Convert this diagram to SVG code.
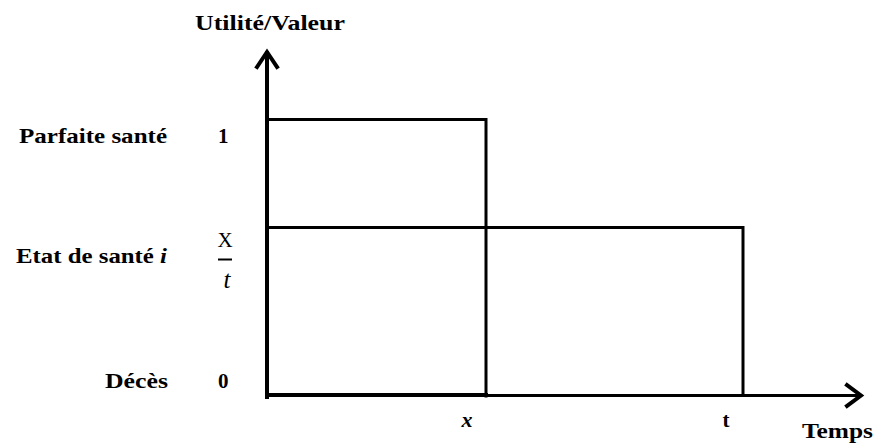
<svg xmlns="http://www.w3.org/2000/svg" width="878" height="444" viewBox="0 0 878 444">
<style>
.t{font-family:"Liberation Serif","DejaVu Serif",serif;font-size:21px;font-weight:bold;fill:#000}
.i{font-style:italic}
.n{font-weight:normal}
.ln{stroke:#000;fill:none;stroke-linecap:square}
</style>
<rect width="878" height="444" fill="#fff"/>
<g id="labels">
<text class="t" x="270" y="30" text-anchor="middle" textLength="150" lengthAdjust="spacingAndGlyphs">Utilité/Valeur</text>
<text class="t" x="19" y="143" textLength="148" lengthAdjust="spacingAndGlyphs">Parfaite santé</text>
<text class="t" x="218" y="143">1</text>
<text class="t" x="16" y="263" textLength="151" lengthAdjust="spacingAndGlyphs">Etat de santé <tspan class="i">i</tspan></text>
<text class="t n" x="225" y="247" text-anchor="middle">X</text>
<line x1="218" y1="259.5" x2="232" y2="259.5" stroke="#000" stroke-width="2"/>
<text class="t n i" x="227" y="288" text-anchor="middle" style="font-size:25px">t</text>
<text class="t" x="105" y="388" textLength="63" lengthAdjust="spacingAndGlyphs">Décès</text>
<text class="t" x="218" y="388">0</text>
<text class="t i" x="467" y="427" text-anchor="middle" style="font-size:22px">x</text>
<text class="t" x="726" y="427" text-anchor="middle">t</text>
<text class="t" x="802" y="438" textLength="71" lengthAdjust="spacingAndGlyphs">Temps</text>
</g>
<g id="connectors">
<line class="ln" x1="267" y1="397" x2="267" y2="53" stroke-width="4"/>
<polyline class="ln" points="257,67 267,52 277,67" stroke-width="4" stroke-linejoin="miter"/>
<line class="ln" x1="267" y1="395" x2="486" y2="395" stroke-width="4"/>
<line class="ln" x1="486" y1="395.5" x2="859" y2="395.5" stroke-width="3"/>
<polyline class="ln" points="847,385 861,395.5 847,406" stroke-width="4" stroke-linejoin="miter"/>
</g>
<g id="rect-parfaite">
<polyline class="ln" points="267,119.5 486,119.5 486,396" stroke-width="3"/>
</g>
<g id="rect-etat">
<polyline class="ln" points="267,227.5 743,227.5 743,395" stroke-width="3"/>
</g>
</svg>
